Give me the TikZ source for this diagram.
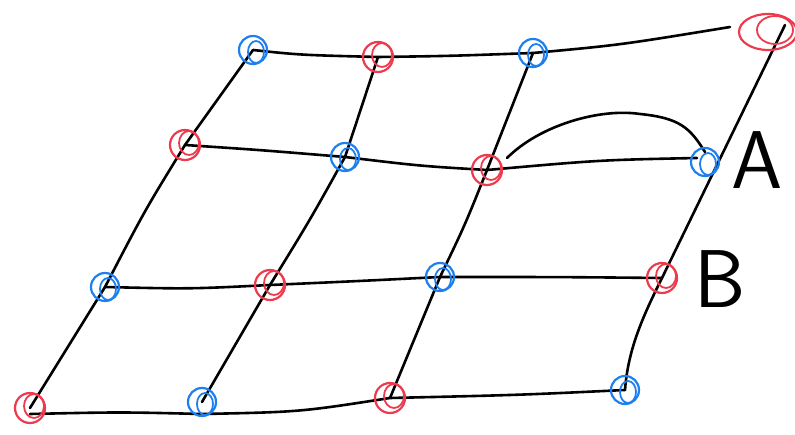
\documentclass[tikz,border=0pt]{standalone}
\usetikzlibrary{calc,shapes.geometric}
\definecolor{rd}{RGB}{238,58,78}
\definecolor{bl}{RGB}{30,128,238}
\begin{document}
\begin{tikzpicture}[x=1pt,y=-1pt,
  ln/.style={line width=2.6pt,black,line cap=round,line join=round},
  rdot/.style={circle,draw=rd,line width=2.2pt,minimum size=30pt,inner sep=0pt},
  bdot/.style={circle,draw=bl,line width=2.2pt,minimum size=28pt,inner sep=0pt},
  lab/.style={font=\sffamily\fontsize{82}{82}\selectfont,inner sep=0pt}]
\useasboundingbox (0,0) rectangle (795,435);
% grid points
\coordinate (p11) at (253,50);  \coordinate (p12) at (378,57);  \coordinate (p13) at (533,53);  \coordinate (p14) at (768,32);
\coordinate (p21) at (185,145); \coordinate (p22) at (345,157); \coordinate (p23) at (487,170); \coordinate (p24) at (705,162);
\coordinate (p31) at (105,287); \coordinate (p32) at (270,285); \coordinate (p33) at (440,277); \coordinate (p34) at (662,278);
\coordinate (p41) at (30,408);  \coordinate (p42) at (202,402); \coordinate (p43) at (390,398); \coordinate (p44) at (625,390);
\coordinate (topend) at (730,27);
\coordinate (coltop) at (785,25);
% lines: rows
\draw[ln] (p11) .. controls (300,55) .. (p12) .. controls (450,56) .. (p13) .. controls (620,45) .. (topend);
\draw[ln] (p21) .. controls (260,150) .. (p22) .. controls (420,166) .. (p23) .. controls (600,160) .. (697,158);
\draw[ln] (p31) .. controls (190,289) .. (p32) .. controls (360,281) .. (p33) .. controls (560,277) .. (p34);
\draw[ln] (30,414) .. controls (120,412) .. (202,414) .. controls (300,412) .. (p43) .. controls (520,395) .. (p44);
% lines: columns
\draw[ln] (p11) -- (p21) .. controls (145,210) .. (p31) -- (p41);
\draw[ln] (p12) -- (p22) .. controls (310,220) .. (p32) -- (p42);
\draw[ln] (p13) -- (p23) .. controls (465,225) .. (p33) -- (p43);
\draw[ln] (coltop) -- (p34) .. controls (642,318) and (628,350) .. (p44);
% arc
\draw[ln] (507,158) .. controls (540,125) and (600,108) .. (640,114) .. controls (680,118) and (690,128) .. (705,152);
% dots
\foreach \n/\c in {p11/b,p12/r,p13/b,p21/r,p22/b,p23/r,p24/b,p31/b,p32/r,p33/b,p34/r,p41/r,p42/b,p43/r,p44/b}{
  \if\c r
    \node[rdot] (d\n) at (\n) {};
    \draw[rd,line width=1.8pt] ($(\n)+(4,-2)$) ellipse (10 and 12);
  \else
    \node[bdot] (d\n) at (\n) {};
    \draw[bl,line width=1.8pt] ($(\n)+(3,2)$) ellipse (8 and 11);
  \fi
}
\node[ellipse,draw=rd,line width=2.2pt,minimum width=58pt,minimum height=36pt,inner sep=0pt] (dp14) at (p14) {};
\draw[rd,line width=1.8pt] (775,30) ellipse (18 and 14);
% labels
\node[lab] (A) at (757,160) {A};
\node[lab] (B) at (720,279) {B};
\end{tikzpicture}
\end{document}
